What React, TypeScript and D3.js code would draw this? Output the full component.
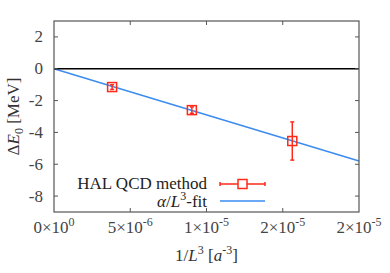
import React, { useEffect, useRef } from "react";
import * as d3 from "d3";

const invVolume: number[] = [3.81e-6, 9.04e-6, 1.5625e-5];
const deltaE: number[] = [-1.15, -2.6, -4.54];
const deltaErr: number[] = [0.15, 0.2, 1.2];
const fitAlpha = -2.9e5;
const xTicks: number[] = [0, 5e-6, 1e-5, 1.5e-5, 2e-5];
const xTickLabels: [string, string][] = [
  ["0", "0"],
  ["5", "-6"],
  ["1", "-5"],
  ["2", "-5"],
  ["2", "-5"],
];
const yTicks: number[] = [2, 0, -2, -4, -6, -8];

const RED = "#ff2a1a";
const BLUE = "#3b8cf0";
const FONT = "Liberation Serif, Times New Roman, Times, serif";
const FS = 17;
const SUP = 12;

const App: React.FC = () => {
  const ref = useRef<SVGSVGElement>(null);

  useEffect(() => {
    if (!ref.current) return;
    const width = 390;
    const height = 273;
    const margin = { top: 21, right: 31, bottom: 61, left: 54 };
    const svg = d3.select(ref.current);
    svg.selectAll("*").remove();

    const x = d3.scaleLinear().domain([0, 2e-5]).range([margin.left, width - margin.right]);
    const y = d3.scaleLinear().domain([-9, 3]).range([height - margin.bottom, margin.top]);

    const g = svg.append("g").style("font-family", FONT);

    // fit line
    g.append("line")
      .attr("x1", x(0))
      .attr("y1", y(0))
      .attr("x2", x(2e-5))
      .attr("y2", y(fitAlpha * 2e-5))
      .attr("stroke", BLUE)
      .attr("stroke-width", 1.5);

    // zero line
    g.append("line")
      .attr("x1", x(0))
      .attr("x2", x(2e-5))
      .attr("y1", y(0))
      .attr("y2", y(0))
      .attr("stroke", "#000")
      .attr("stroke-width", 1.5);

    // error bars + squares
    invVolume.forEach((v, i) => {
      const cx = x(v);
      const lo = y(deltaE[i] - deltaErr[i]);
      const hi = y(deltaE[i] + deltaErr[i]);
      g.append("line").attr("x1", cx).attr("x2", cx).attr("y1", lo).attr("y2", hi)
        .attr("stroke", RED).attr("stroke-width", 1.5);
      [lo, hi].forEach((yy) =>
        g.append("line").attr("x1", cx - 2).attr("x2", cx + 2).attr("y1", yy).attr("y2", yy)
          .attr("stroke", RED).attr("stroke-width", 1.5)
      );
      g.append("rect")
        .attr("x", cx - 4.5)
        .attr("y", y(deltaE[i]) - 4.5)
        .attr("width", 9)
        .attr("height", 9)
        .attr("fill", "none")
        .attr("stroke", RED)
        .attr("stroke-width", 1.5);
    });

    // frame
    g.append("rect")
      .attr("x", x(0))
      .attr("y", y(3))
      .attr("width", x(2e-5) - x(0))
      .attr("height", y(-9) - y(3))
      .attr("fill", "none")
      .attr("stroke", "#555")
      .attr("stroke-width", 1.2);

    // ticks
    xTicks.slice(1, -1).forEach((t) => {
      g.append("line").attr("x1", x(t)).attr("x2", x(t)).attr("y1", y(-9)).attr("y2", y(-9) - 4)
        .attr("stroke", "#555");
      g.append("line").attr("x1", x(t)).attr("x2", x(t)).attr("y1", y(3)).attr("y2", y(3) + 4)
        .attr("stroke", "#555");
    });
    yTicks.forEach((t) => {
      g.append("line").attr("x1", x(0)).attr("x2", x(0) + 4).attr("y1", y(t)).attr("y2", y(t))
        .attr("stroke", "#555");
      g.append("line").attr("x1", x(2e-5)).attr("x2", x(2e-5) - 4).attr("y1", y(t)).attr("y2", y(t))
        .attr("stroke", "#555");
    });

    // y tick labels
    yTicks.forEach((t) => {
      g.append("text")
        .attr("x", x(0) - 11)
        .attr("y", y(t) + 5.5)
        .attr("text-anchor", "end")
        .attr("font-size", FS)
        .attr("fill", "#444")
        .text(String(t));
    });

    // x tick labels
    xTicks.forEach((t, i) => {
      const txt = g.append("text")
        .attr("x", x(t))
        .attr("y", y(-9) + 21)
        .attr("text-anchor", "middle")
        .attr("font-size", FS)
        .attr("fill", "#444");
      txt.append("tspan").text(`${xTickLabels[i][0]}\u00d710`);
      txt.append("tspan").attr("dy", -7).attr("font-size", SUP).text(xTickLabels[i][1]);
    });

    // x axis label
    const xl = g.append("text")
      .attr("x", (x(0) + x(2e-5)) / 2)
      .attr("y", 261)
      .attr("text-anchor", "middle")
      .attr("font-size", FS)
      .attr("fill", "#333");
    xl.append("tspan").text("1/");
    xl.append("tspan").attr("font-style", "italic").text("L");
    xl.append("tspan").attr("dy", -7).attr("font-size", SUP).text("3");
    xl.append("tspan").attr("dy", 7).text(" [");
    xl.append("tspan").attr("font-style", "italic").text("a");
    xl.append("tspan").attr("dy", -7).attr("font-size", SUP).text("-3");
    xl.append("tspan").attr("dy", 7).text("]");

    // y axis label
    const yl = g.append("text")
      .attr("transform", `translate(19,${(y(3) + y(-9)) / 2}) rotate(-90)`)
      .attr("text-anchor", "middle")
      .attr("font-size", FS)
      .attr("fill", "#333");
    yl.append("tspan").text("\u0394");
    yl.append("tspan").attr("font-style", "italic").text("E");
    yl.append("tspan").attr("dy", 4).attr("font-size", SUP).text("0");
    yl.append("tspan").attr("dy", -4).text(" [MeV]");

    // legend
    const lx1 = 220;
    const lx2 = 265;
    const ly1 = 184;
    const ly2 = 201;
    g.append("text")
      .attr("x", 207)
      .attr("y", ly1 + 5)
      .attr("text-anchor", "end")
      .attr("font-size", FS)
      .attr("fill", "#222")
      .text("HAL QCD method");
    g.append("line").attr("x1", lx1).attr("x2", lx2).attr("y1", ly1).attr("y2", ly1)
      .attr("stroke", RED).attr("stroke-width", 1.5);
    [lx1, lx2].forEach((xx) =>
      g.append("line").attr("x1", xx).attr("x2", xx).attr("y1", ly1 - 2).attr("y2", ly1 + 2)
        .attr("stroke", RED).attr("stroke-width", 1.5)
    );
    g.append("rect")
      .attr("x", (lx1 + lx2) / 2 - 4.5)
      .attr("y", ly1 - 4.5)
      .attr("width", 9)
      .attr("height", 9)
      .attr("fill", "#fff")
      .attr("stroke", RED)
      .attr("stroke-width", 1.5);

    const lt = g.append("text")
      .attr("x", 207)
      .attr("y", ly2 + 6)
      .attr("text-anchor", "end")
      .attr("font-size", FS)
      .attr("fill", "#222");
    lt.append("tspan").attr("font-style", "italic").text("\u03b1");
    lt.append("tspan").text("/");
    lt.append("tspan").attr("font-style", "italic").text("L");
    lt.append("tspan").attr("dy", -7).attr("font-size", SUP).text("3");
    lt.append("tspan").attr("dy", 7).text("-fit");
    g.append("line").attr("x1", lx1).attr("x2", lx2).attr("y1", ly2).attr("y2", ly2)
      .attr("stroke", BLUE).attr("stroke-width", 1.5);
  }, []);

  return (
    <svg
      ref={ref}
      width={390}
      height={273}
      style={{ position: "absolute", left: 0, top: 0, background: "#fff" }}
    />
  );
};

export default App;
